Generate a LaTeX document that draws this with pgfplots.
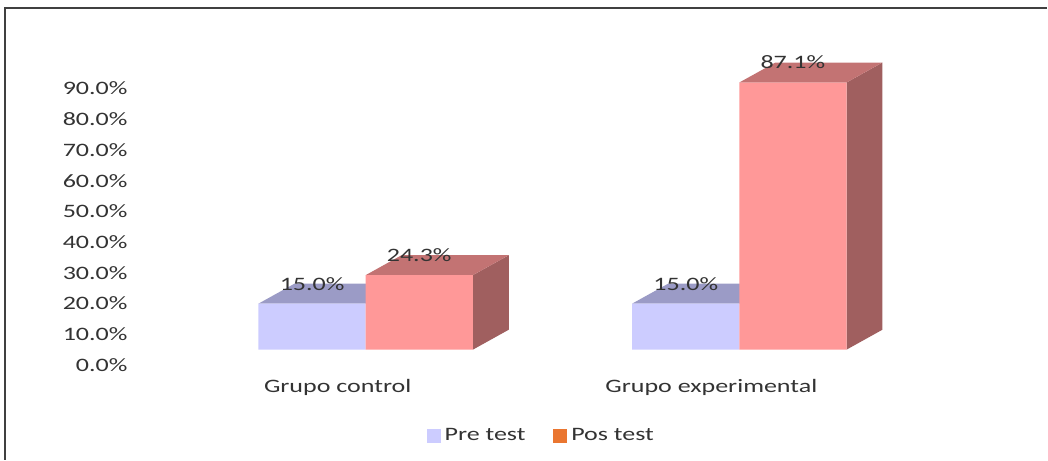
\documentclass[border=0pt]{standalone}
\usepackage{fontspec}
\setmainfont{Carlito}[FakeStretch=1.37]
\usepackage{pgfplots}
\pgfplotsset{compat=1.18}

\definecolor{prefront}{HTML}{CCCCFF}
\definecolor{pretop}{HTML}{9B9BC6}
\definecolor{posfront}{HTML}{FF9898}
\definecolor{postop}{HTML}{C37373}
\definecolor{posside}{HTML}{A05F5F}
\definecolor{poslegend}{HTML}{EA7630}
\definecolor{labelink}{HTML}{333333}

\begin{document}
\begin{tikzpicture}
\begin{axis}[
scale only axis,
width=524pt,
height=230pt,
xmin=-0.9786, xmax=1.8235,
ymin=-35.83, ymax=114.0,
axis line style={draw=none},
tick style={draw=none},
clip=false,
font=\fontsize{9.5}{11}\selectfont,
/pgf/number format/assume math mode=true,
xtick={0,1},
xticklabels={Grupo control,Grupo experimental},
xticklabel style={anchor=center, yshift=36pt, xshift=-14pt, text=labelink},
ytick={0,10,...,90},
yticklabel={\pgfmathprintnumber[fixed,fixed zerofill,precision=1,assume math mode=true]{\tick}\%},
yticklabel style={anchor=east, inner sep=0pt, xshift=64pt, yshift=-7.5pt, text=labelink},
legend style={draw=none, fill=none, at={(0.518,0.052)}, anchor=center,
  font=\fontsize{9.5}{11}\selectfont, text=labelink,
  /tikz/every even column/.append style={column sep=12pt}},
legend columns=2,
legend cell align=left,
]
% pre test top faces
\addplot[fill=pretop, draw=none, forget plot] coordinates {(-0.287,15) (0,15) (0.0963,21.5) (-0.1907,21.5)} -- cycle;
\addplot[fill=pretop, draw=none, forget plot] coordinates {(0.713,15) (1,15) (1.0963,21.5) (0.8093,21.5)} -- cycle;
% pre test fronts
\addplot[ybar, bar width=0.287, bar shift=-0.1435, fill=prefront, draw=none, forget plot,
  nodes near coords={\pgfmathprintnumber[fixed,fixed zerofill,precision=1,assume math mode=true]{\pgfplotspointmeta}\%},
  every node near coord/.append style={anchor=center, xshift=-26.8pt, yshift=10pt, text=labelink}]
  coordinates {(0,15.0) (1,15.0)};
% pos test sides and tops
\addplot[fill=posside, draw=none, forget plot] coordinates {(0.287,0) (0.383,6.5) (0.383,30.8) (0.287,24.3)} -- cycle;
\addplot[fill=postop, draw=none, forget plot] coordinates {(0,24.3) (0.287,24.3) (0.383,30.8) (0.0963,30.8)} -- cycle;
\addplot[fill=posside, draw=none, forget plot] coordinates {(1.287,0) (1.383,6.5) (1.383,93.6) (1.287,87.1)} -- cycle;
\addplot[fill=postop, draw=none, forget plot] coordinates {(1,87.1) (1.287,87.1) (1.383,93.6) (1.0963,93.6)} -- cycle;
% pos test fronts
\addplot[ybar, bar width=0.287, bar shift=0.1435, fill=posfront, draw=none, forget plot,
  nodes near coords={\pgfmathprintnumber[fixed,fixed zerofill,precision=1,assume math mode=true]{\pgfplotspointmeta}\%},
  every node near coord/.append style={anchor=center, xshift=26.8pt, yshift=10pt, text=labelink}]
  coordinates {(0,24.3) (1,87.1)};
\addlegendimage{legend image code/.code={\fill[prefront] (0pt,-3.25pt) rectangle (6.5pt,3.25pt);}}
\addlegendentry{Pre test}
\addlegendimage{legend image code/.code={\fill[poslegend] (0pt,-3.25pt) rectangle (6.5pt,3.25pt);}}
\addlegendentry{Pos test}
% outer frame
\draw[black!75, line width=1pt] (axis description cs:0.0048,0) -- (axis description cs:0.0048,0.9826) -- (axis description cs:1,0.9826);
\end{axis}
\end{tikzpicture}
\end{document}
